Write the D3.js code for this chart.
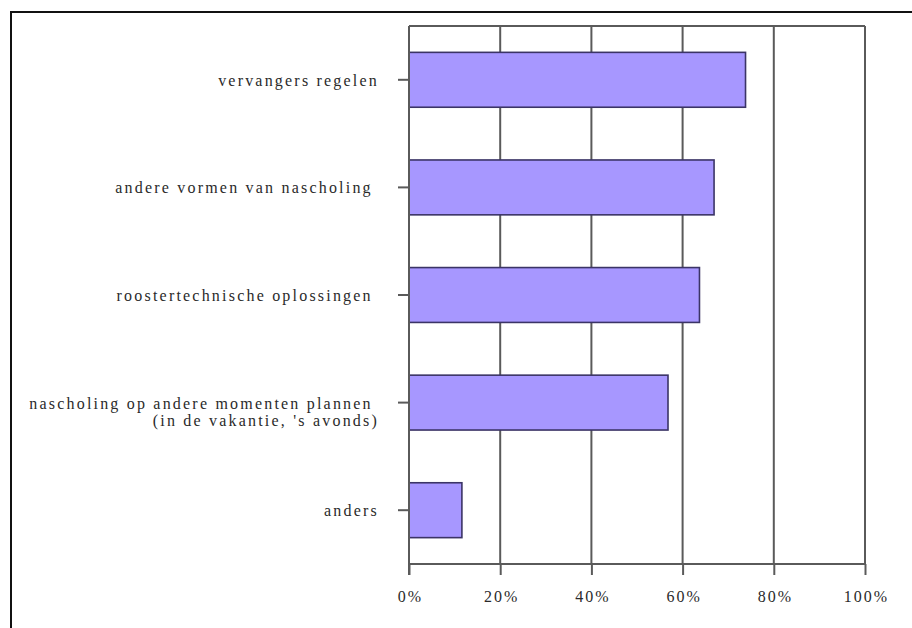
<!DOCTYPE html>
<html>
<head>
<meta charset="utf-8">
<script src="https://cdn.jsdelivr.net/npm/d3@7"></script>
<style>
  html, body { margin: 0; padding: 0; background: #fff; }
  svg { display: block; }
  svg text { font-family: "Liberation Serif", "Times New Roman", "DejaVu Serif", serif !important; fill: #2a2a2a; white-space: pre; }
</style>
</head>
<body>
<svg id="chart" width="912" height="628"></svg>
<script>
// Categories (top to bottom); multi-line labels split on "\n"
const categories = [
  "vervangers regelen",
  "andere vormen van nascholing ",
  "roostertechnische oplossingen ",
  "nascholing op andere momenten plannen \n(in de vakantie, 's avonds)",
  "anders"
];
// Share of respondents per option (fraction)
const values = [0.738, 0.669, 0.637, 0.568, 0.116];
// X-axis tick values
const xTicks = [0, 0.2, 0.4, 0.6, 0.8, 1.0];

const svg = d3.select("#chart");
const W = 912, H = 628;
const margin = { left: 409, right: W - 865, top: 26, bottom: H - 564 };

// Outer frame (runs off the right and bottom edge)
svg.append("rect")
  .attr("x", 11).attr("y", 12)
  .attr("width", 1000).attr("height", 1000)
  .attr("fill", "none").attr("stroke", "#111").attr("stroke-width", 2);

const x = d3.scaleLinear().domain([0, 1]).range([margin.left, W - margin.right]);
const y = d3.scaleBand().domain(categories)
  .range([margin.top, H - margin.bottom])
  .paddingInner(0.49).paddingOuter(0.245);

const gridColor = "#5a5a5a";

// Vertical gridlines + plot border
svg.append("g")
  .selectAll("line")
  .data(xTicks)
  .join("line")
  .attr("x1", d => x(d)).attr("x2", d => x(d))
  .attr("y1", margin.top).attr("y2", H - margin.bottom)
  .attr("stroke", gridColor).attr("stroke-width", 2);

svg.append("line")
  .attr("x1", x(0)).attr("x2", x(1))
  .attr("y1", margin.top).attr("y2", margin.top)
  .attr("stroke", gridColor).attr("stroke-width", 2);

// Bars
svg.append("g")
  .selectAll("rect")
  .data(categories)
  .join("rect")
  .attr("x", x(0))
  .attr("y", d => y(d))
  .attr("width", (d, i) => x(values[i]) - x(0))
  .attr("height", y.bandwidth())
  .attr("fill", "#a797ff")
  .attr("stroke", "#3b3466")
  .attr("stroke-width", 1.6);

// X axis
const xAxis = d3.axisBottom(x)
  .tickValues(xTicks)
  .tickFormat(d3.format(".0%"))
  .tickSize(11)
  .tickPadding(16);

const gx = svg.append("g")
  .attr("transform", `translate(0,${H - margin.bottom})`)
  .call(xAxis);
gx.select(".domain").attr("stroke", gridColor).attr("stroke-width", 2)
  .attr("d", `M${x(0)},0H${x(1)}`);
gx.selectAll(".tick line").attr("stroke", gridColor).attr("stroke-width", 2);
gx.selectAll(".tick text")
  .attr("font-size", 16)
  .attr("letter-spacing", "2px")
  .attr("dx", 1);

// Y axis (ticks at category centres)
const yAxis = d3.axisLeft(y).tickSize(11).tickFormat("");
const gy = svg.append("g")
  .attr("transform", `translate(${x(0)},0)`)
  .call(yAxis);
gy.select(".domain").attr("stroke", gridColor).attr("stroke-width", 2)
  .attr("d", `M0,${margin.top}V${H - margin.bottom + 11}`);
gy.selectAll(".tick line").attr("stroke", gridColor).attr("stroke-width", 2);

// Category labels, right-aligned left of the axis
const labels = svg.append("g");
categories.forEach(c => {
  const lines = c.split("\n");
  const cy = y(c) + y.bandwidth() / 2;
  const t = labels.append("text")
    .attr("x", 379)
    .attr("y", cy + 6)
    .attr("text-anchor", "end")
    .attr("font-size", 16)
    .attr("letter-spacing", "2.2px");
  lines.forEach((ln, k) => {
    t.append("tspan").attr("x", 379).attr("dy", k === 0 ? 0 : 17).text(ln);
  });
});
</script>
</body>
</html>
